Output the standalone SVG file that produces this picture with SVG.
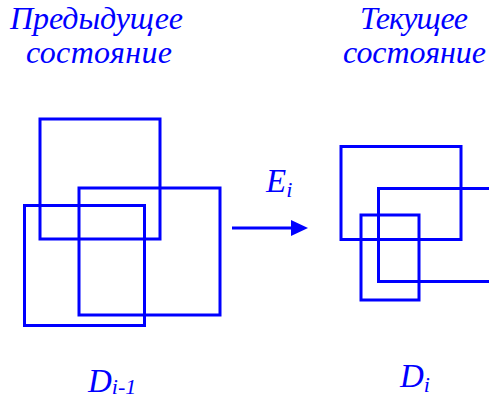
<svg xmlns="http://www.w3.org/2000/svg" width="489" height="399" viewBox="0 0 489 399">
<defs>
<style>
.t{font-family:"Liberation Serif","Times New Roman",serif;font-style:italic;fill:#0000FF;}
.h{font-size:32px;}
.m{font-size:33px;}
.s{font-size:22px;}
.r{fill:none;stroke:#0000FF;stroke-width:3;}
</style>
</defs>
<rect width="489" height="399" fill="#FFFFFF"/>
<g id="title-prev">
<text class="t h" x="10" y="29" textLength="173">Предыдущее</text>
<text class="t h" x="26" y="63" textLength="146">состояние</text>
</g>
<g id="title-cur">
<text class="t h" x="360" y="29" textLength="108">Текущее</text>
<text class="t h" x="343" y="63" textLength="143">состояние</text>
</g>
<g id="prev-state">
<rect class="r" x="40" y="119" width="120" height="120"/>
<rect class="r" x="79" y="188" width="141" height="127"/>
<rect class="r" x="24.5" y="205.5" width="120" height="120"/>
</g>
<g id="cur-state">
<rect class="r" x="341" y="146.5" width="120" height="93"/>
<path class="r" d="M492,188.5 H378.5 V281.5 H492"/>
<rect class="r" x="361" y="215" width="58" height="85"/>
</g>
<g id="connectors">
<line x1="232" y1="228" x2="292" y2="228" stroke="#0000FF" stroke-width="3"/>
<polygon points="291,220 308,228 291,236" fill="#0000FF"/>
</g>
<g id="label-E">
<text class="t m" x="266" y="192">E<tspan class="s" dy="5">i</tspan></text>
</g>
<g id="label-Dprev">
<text class="t m" x="88" y="392">D<tspan class="s" dy="2">i-1</tspan></text>
</g>
<g id="label-Dcur">
<text class="t m" x="400" y="387">D<tspan class="s" dy="5">i</tspan></text>
</g>
</svg>
